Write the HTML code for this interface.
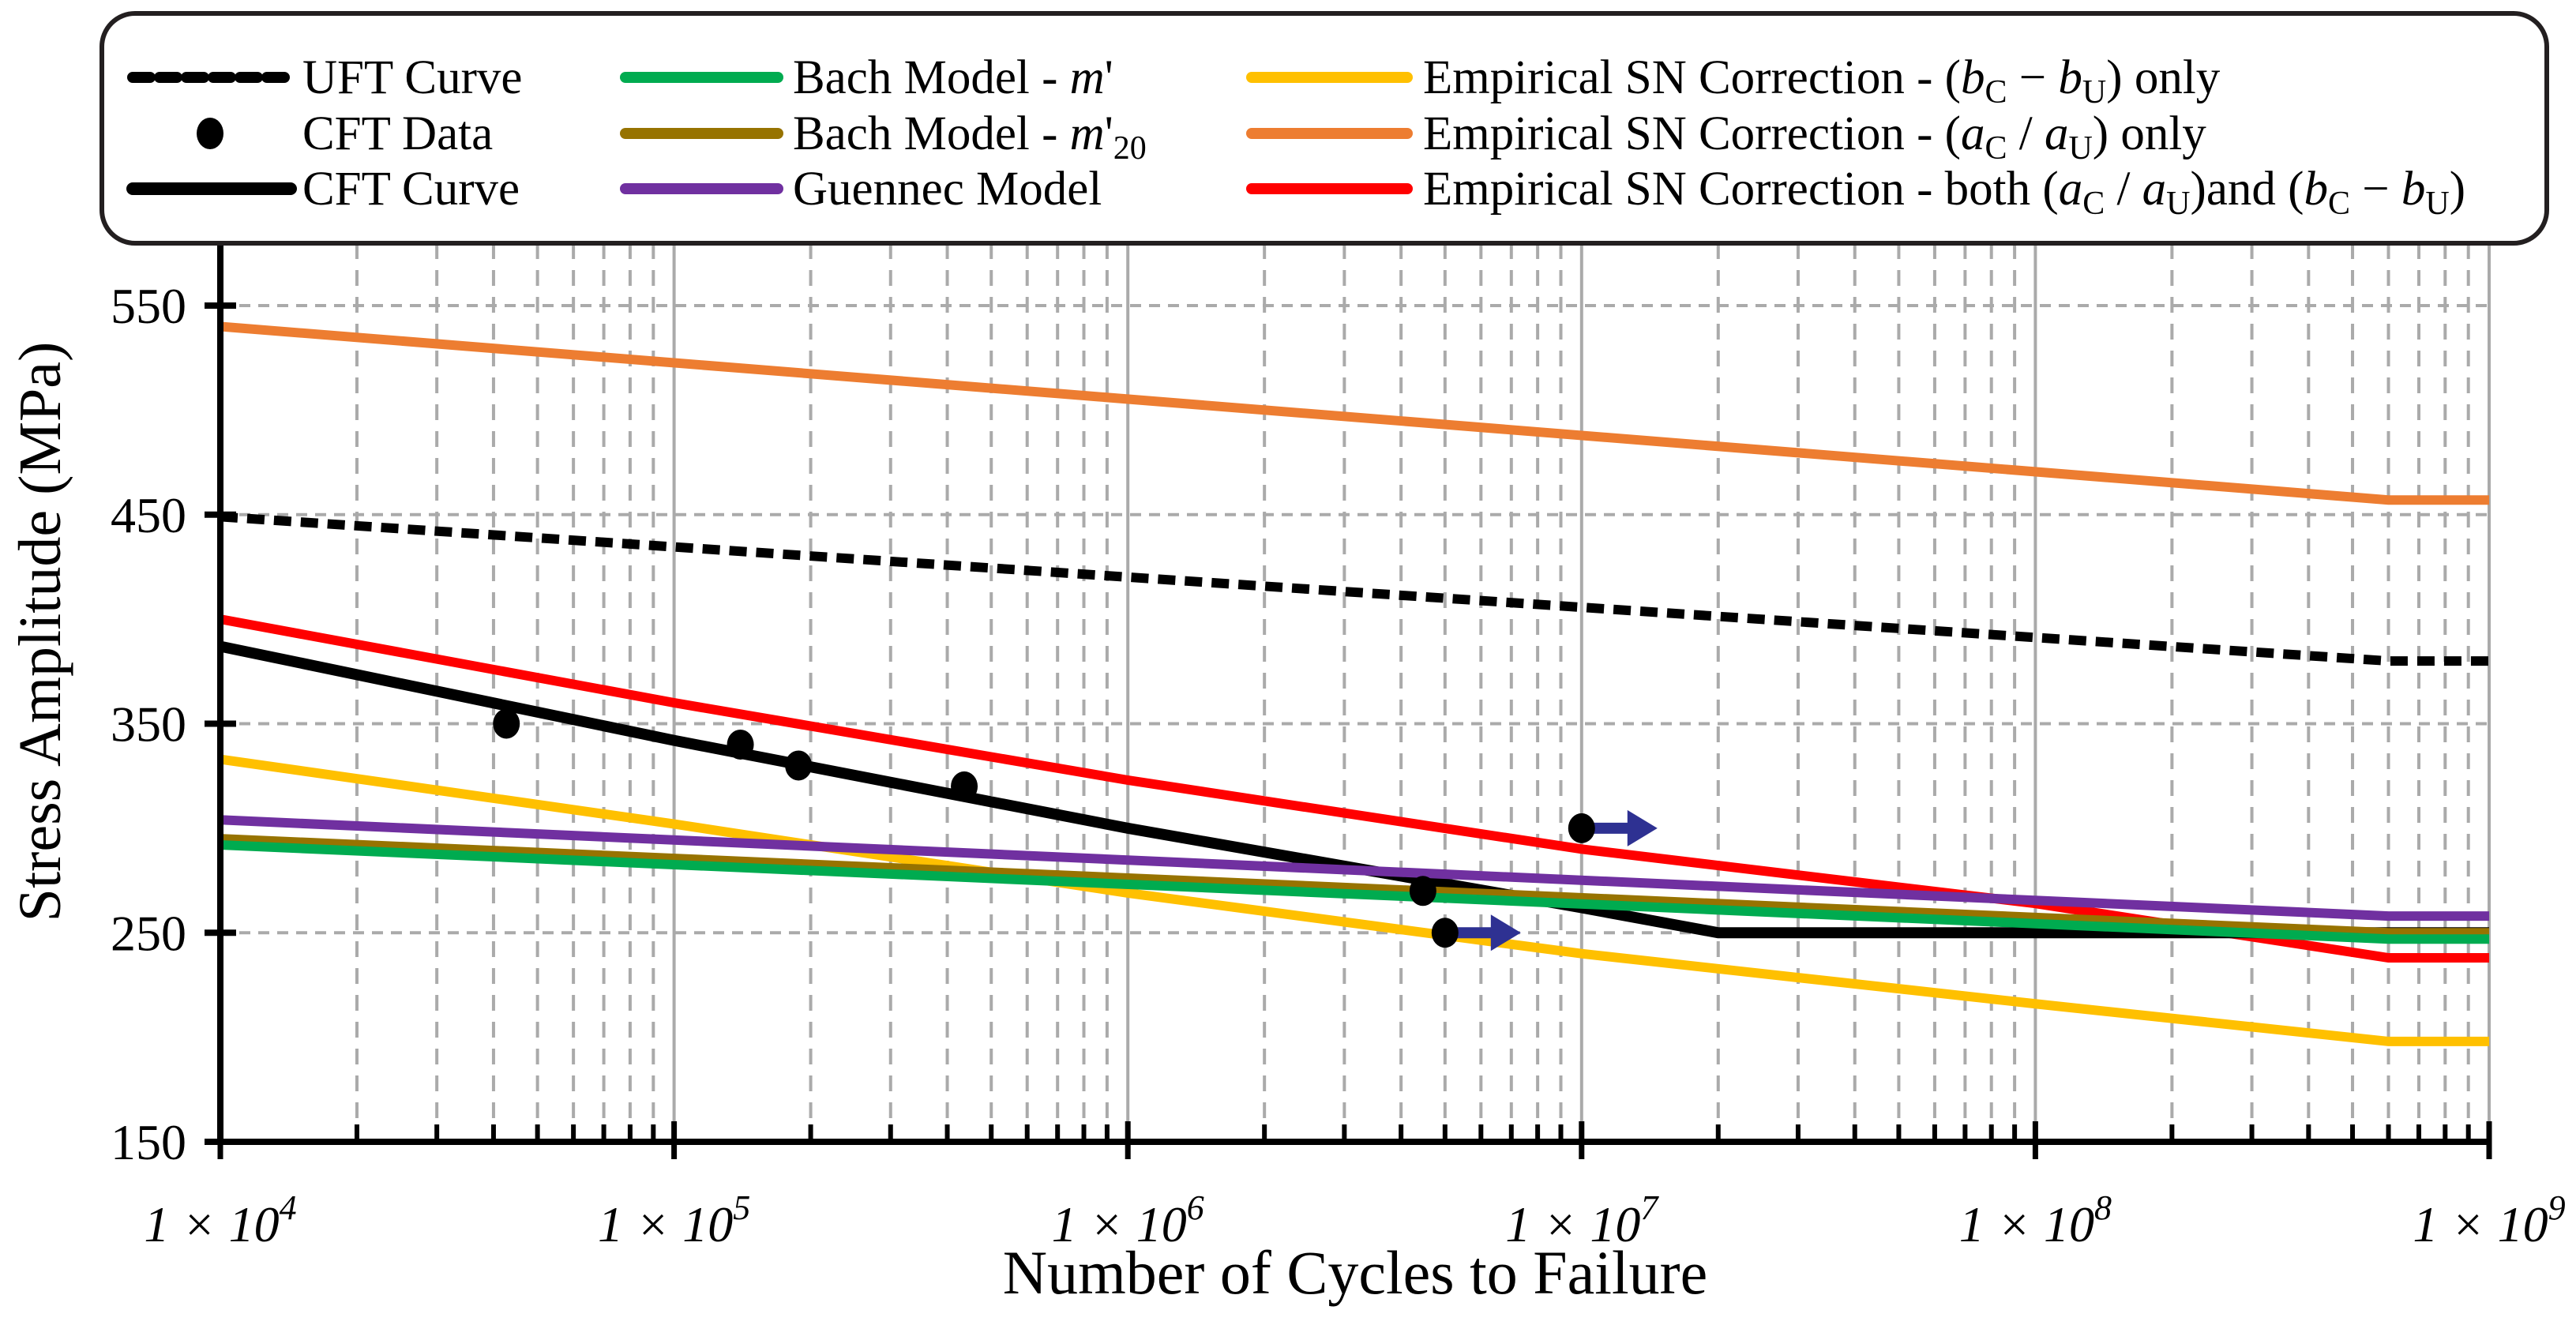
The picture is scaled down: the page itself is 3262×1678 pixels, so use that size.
<!DOCTYPE html>
<html><head><meta charset="utf-8"><style>
html,body{margin:0;padding:0;background:#fff}
svg{display:block;font-family:"Liberation Serif",serif}
</style></head><body>
<svg id="chart" width="3262" height="1678" viewBox="0 0 3262 1678" xmlns="http://www.w3.org/2000/svg">
<g id="grid"></g>
<g id="series"></g>
<g id="axes"></g>
<text transform="translate(76,800) rotate(-90)" text-anchor="middle" font-size="76">Stress Amplitude (MPa)</text>
<text x="1716" y="1638" text-anchor="middle" font-size="78">Number of Cycles to Failure</text>
<g>
<rect x="129" y="17" width="3096" height="291" rx="42" fill="#fff" stroke="#231f20" stroke-width="6"/>
<g font-size="61">
<line x1="168" y1="98" x2="368" y2="98" stroke="#000" stroke-width="14" stroke-dasharray="22,12" stroke-linecap="round"/>
<text x="383" y="118">UFT Curve</text>
<ellipse cx="266" cy="169" rx="17" ry="20" fill="#000"/>
<text x="383" y="189">CFT Data</text>
<line x1="168" y1="239" x2="368" y2="239" stroke="#000" stroke-width="16" stroke-linecap="round"/>
<text x="383" y="259">CFT Curve</text>
<line x1="792" y1="98" x2="985" y2="98" stroke="#00ab50" stroke-width="14" stroke-linecap="round"/>
<text x="1004" y="118">Bach Model - <tspan font-style="italic">m</tspan>'</text>
<line x1="792" y1="169" x2="985" y2="169" stroke="#977300" stroke-width="14" stroke-linecap="round"/>
<text x="1004" y="189">Bach Model - <tspan font-style="italic">m</tspan>'<tspan font-size="42" dy="12">20</tspan></text>
<line x1="792" y1="239" x2="985" y2="239" stroke="#7030a0" stroke-width="14" stroke-linecap="round"/>
<text x="1004" y="259">Guennec Model</text>
<line x1="1585" y1="98" x2="1782" y2="98" stroke="#ffc000" stroke-width="14" stroke-linecap="round"/>
<text x="1802" y="118">Empirical SN Correction - (<tspan font-style="italic">b</tspan><tspan font-size="42" dy="12">C</tspan><tspan dy="-12"> − </tspan><tspan font-style="italic">b</tspan><tspan font-size="42" dy="12">U</tspan><tspan dy="-12">) only</tspan></text>
<line x1="1585" y1="169" x2="1782" y2="169" stroke="#ed7d31" stroke-width="14" stroke-linecap="round"/>
<text x="1802" y="189">Empirical SN Correction - (<tspan font-style="italic">a</tspan><tspan font-size="42" dy="12">C</tspan><tspan dy="-12"> / </tspan><tspan font-style="italic">a</tspan><tspan font-size="42" dy="12">U</tspan><tspan dy="-12">) only</tspan></text>
<line x1="1585" y1="239" x2="1782" y2="239" stroke="#ff0000" stroke-width="14" stroke-linecap="round"/>
<text x="1802" y="259">Empirical SN Correction - both (<tspan font-style="italic">a</tspan><tspan font-size="42" dy="12">C</tspan><tspan dy="-12"> / </tspan><tspan font-style="italic">a</tspan><tspan font-size="42" dy="12">U</tspan><tspan dy="-12">)and (</tspan><tspan font-style="italic">b</tspan><tspan font-size="42" dy="12">C</tspan><tspan dy="-12"> − </tspan><tspan font-style="italic">b</tspan><tspan font-size="42" dy="12">U</tspan><tspan dy="-12">)</tspan></text>
</g>
</g>
</svg>
<script>
const xDecades = [4,5,6,7,8,9];
const yTicks = [150,250,350,450,550];
const seriesNames = ['emp-a','uft','emp-both','cft-curve','emp-b','guennec','bach-m20','bach-m'];
const seriesX = [[1e4,6e8,1e9],[1e4,6e8,1e9],[1e4,1e5,1e6,1e7,1e8,6e8,1e9],[1e4,1e5,1e6,1e7,2e7,1e9],[1e4,1e5,1e6,1e7,1e8,6e8,1e9],[1e4,6e8,1e9],[1e4,6e8,1e9],[1e4,6e8,1e9]];
const seriesY = [[540,457,457],[449,380,380],[400,360,323,290,264,238,238],[387,342,300,262,250,250],[333,302,269,240,216,198,198],[304,258,258],[295,250,250],[292,247,247]];
const dataX = [4.27e4,1.4e5,1.88e5,4.36e5,4.47e6,5.0e6,1e7];
const dataY = [350,340,330,320,270,250,300];
const runoutIdx = [5,6];

const NS='http://www.w3.org/2000/svg';
const L=279,R=3152,T=308,B=1446;
const xs=v=>L+(Math.log10(v)-4)/5*(R-L);
const ys=v=>1446-(v-150)/400*(1446-387);
function mk(p,t,a){const e=document.createElementNS(NS,t);for(const k in a)e.setAttribute(k,a[k]);p.appendChild(e);return e;}
const grid=document.getElementById('grid'),ser=document.getElementById('series'),ax=document.getElementById('axes');
const styles={'emp-a':['#ed7d31',''],'uft':['#000','22,12'],'emp-both':['#ff0000',''],'cft-curve':['#000',''],'emp-b':['#ffc000',''],'guennec':['#7030a0',''],'bach-m20':['#977300',''],'bach-m':['#00ab50','']};
yTicks.forEach(v=>{if(v===150)return;const g=mk(grid,'line',{x1:L,x2:R,y1:ys(v),y2:ys(v),stroke:'#aaa','stroke-width':4,'stroke-dasharray':'14,10'});

});
xDecades.forEach((d,i)=>{const X=xs(Math.pow(10,d));const g=mk(grid,'line',{x1:X,x2:X,y1:T,y2:B,stroke:'#aaa','stroke-width':4});


if(i<xDecades.length-1){for(let m=2;m<=9;m++){const Xm=xs(m*Math.pow(10,d));const gm=mk(grid,'line',{x1:Xm,x2:Xm,y1:T,y2:B,stroke:'#aaa','stroke-width':4,'stroke-dasharray':'20,14'});


const tk=mk(ax,'line',{x1:Xm,x2:Xm,y1:B,y2:B-22,stroke:'#000','stroke-width':6});

}}
const tk=mk(ax,'line',{x1:X,x2:X,y1:B+22,y2:B-26,stroke:'#000','stroke-width':7});


const t=mk(ax,'text',{x:X,y:1572,'text-anchor':'middle','font-size':64,'font-style':'italic'});


t.innerHTML='1 × 10<tspan font-size="44" dy="-28">'+d+'</tspan>';});
seriesNames.forEach((n,i)=>{const pts=seriesX[i].map((x,j)=>xs(x)+','+ys(seriesY[i][j])).join(' ');
const a={points:pts,fill:'none',stroke:styles[n][0],'stroke-width':n==='cft-curve'?14:12};if(styles[n][1])a['stroke-dasharray']=styles[n][1];
const p=mk(ser,'polyline',a);

});
dataX.forEach((x,i)=>{const cx=xs(x),cy=ys(dataY[i]);
if(runoutIdx.includes(i)){const ar=mk(ser,'path',{d:`M${cx} ${cy-7}h58v-16l38 23l-38 23v-16h-58z`,fill:'#2e3192'});

}
const c=mk(ser,'ellipse',{cx:cx,cy:cy,rx:17,ry:19,fill:'#000'});

});
const la=mk(ax,'line',{x1:L,x2:L,y1:T,y2:B+4,stroke:'#000','stroke-width':8});


const ba=mk(ax,'line',{x1:L-4,x2:R+3,y1:B,y2:B,stroke:'#000','stroke-width':8});


yTicks.forEach(v=>{const tk=mk(ax,'line',{x1:L-20,x2:L+20,y1:ys(v),y2:ys(v),stroke:'#000','stroke-width':8});


const t=mk(ax,'text',{x:236,y:ys(v)+22,'text-anchor':'end','font-size':64});


t.textContent=v;});
</script>
</body></html>
